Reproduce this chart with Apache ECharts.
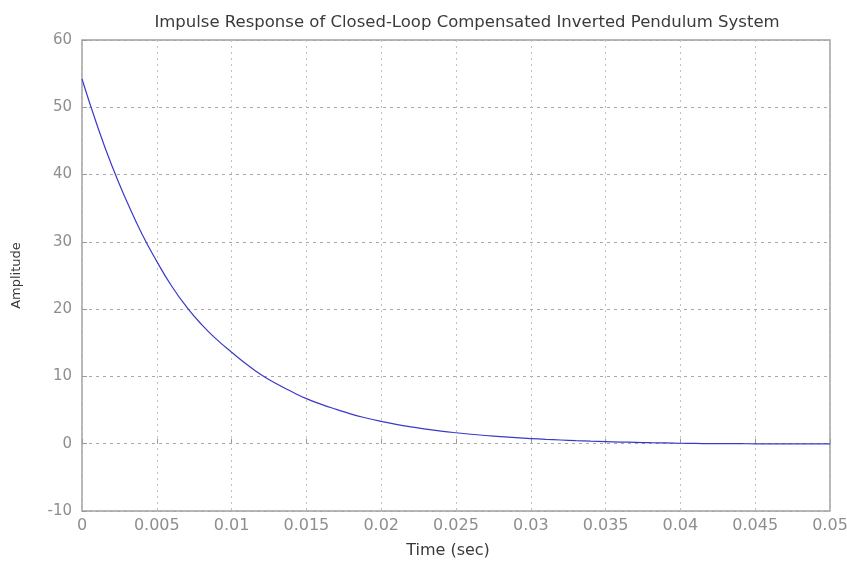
<!DOCTYPE html>
<html>
<head>
<meta charset="utf-8">
<script src="https://cdn.jsdelivr.net/npm/echarts@6/dist/echarts.min.js"></script>
<style>
  html, body { margin: 0; padding: 0; background: #fff; }
  #chart { width: 847px; height: 561px; }
</style>
</head>
<body>
<div id="chart"></div>
<script>
// Sample times (sec)
const timeSec = [
  0.000, 0.001, 0.002, 0.003, 0.004, 0.005, 0.006, 0.007, 0.008, 0.009,
  0.010, 0.011, 0.012, 0.013, 0.014, 0.015, 0.016, 0.017, 0.018, 0.019,
  0.020, 0.021, 0.022, 0.023, 0.024, 0.025, 0.026, 0.027, 0.028, 0.029,
  0.030, 0.031, 0.032, 0.033, 0.034, 0.035, 0.036, 0.037, 0.038, 0.039,
  0.040, 0.041, 0.042, 0.043, 0.044, 0.045, 0.046, 0.047, 0.048, 0.049, 0.050
];
// Impulse response amplitude
const amplitude = [
  54.2, 47.4, 41.3, 36.0, 31.2, 27.1, 23.4, 20.3, 17.7, 15.5,
  13.6, 11.8, 10.2, 8.9, 7.75, 6.7, 5.85, 5.1, 4.4, 3.82,
  3.32, 2.88, 2.5, 2.17, 1.88, 1.63, 1.41, 1.22, 1.05, 0.9,
  0.77, 0.65, 0.55, 0.46, 0.38, 0.31, 0.25, 0.2, 0.15, 0.11,
  0.07, 0.04, 0.02, 0.01, 0.0, -0.01, -0.02, -0.02, -0.03, -0.03, -0.03
];
const xTickLabels = ['0', '0.005', '0.01', '0.015', '0.02', '0.025', '0.03', '0.035', '0.04', '0.045', '0.05'];
const yTickLabels = ['-10', '0', '10', '20', '30', '40', '50', '60'];

const chart = echarts.init(document.getElementById('chart'), null, { renderer: 'canvas' });

const font = '"DejaVu Sans", Verdana, sans-serif';
const tickStyle = { show: true, inside: true, length: 5, lineStyle: { color: '#9a9a9a' } };

chart.setOption({
  animation: false,
  backgroundColor: '#ffffff',
  title: {
    text: 'Impulse Response of Closed-Loop Compensated Inverted Pendulum System',
    left: 462,
    textAlign: 'center',
    top: 9,
    textStyle: { fontFamily: font, fontSize: 16.5, fontWeight: 'normal', color: '#3a3a3a' }
  },
  grid: {
    left: 82, right: 17, top: 40, bottom: 50,
    outerBoundsMode: 'none',
    containLabel: false,
    show: true, borderColor: '#a0a0a0', borderWidth: 1.5, backgroundColor: '#ffffff'
  },
  xAxis: {
    type: 'value',
    min: 0, max: 0.05, interval: 0.005,
    name: 'Time (sec)',
    nameLocation: 'middle',
    nameGap: 32,
    nameTextStyle: { fontFamily: font, fontSize: 16, color: '#3a3a3a', padding: [0, 16, 0, 0] },
    axisLine: { show: false },
    axisTick: tickStyle,
    axisLabel: {
      fontFamily: font, fontSize: 16, color: '#8e8e8e', margin: 7,
      formatter: (v) => xTickLabels[Math.round(v / 0.005)]
    },
    splitLine: { show: true, lineStyle: { color: '#c0c0c0', width: 1, type: [2, 4] } }
  },
  yAxis: {
    type: 'value',
    min: -10, max: 60, interval: 10,
    name: 'Amplitude',
    nameLocation: 'middle',
    nameGap: 59,
    nameRotate: 90,
    nameTextStyle: { fontFamily: font, fontSize: 13, color: '#3a3a3a' },
    axisLine: { show: false },
    axisTick: tickStyle,
    axisLabel: {
      fontFamily: font, fontSize: 15, color: '#8e8e8e', margin: 10,
      formatter: (v) => yTickLabels[Math.round((v + 10) / 10)]
    },
    splitLine: { show: true, lineStyle: { color: '#a8a8a8', width: 1, type: [3, 4] } }
  },
  series: [{
    type: 'line',
    data: timeSec.map((t, i) => [t, amplitude[i]]),
    showSymbol: false,
    smooth: true,
    lineStyle: { color: '#3a3ac8', width: 1.2 }
  }]
});
</script>
</body>
</html>
